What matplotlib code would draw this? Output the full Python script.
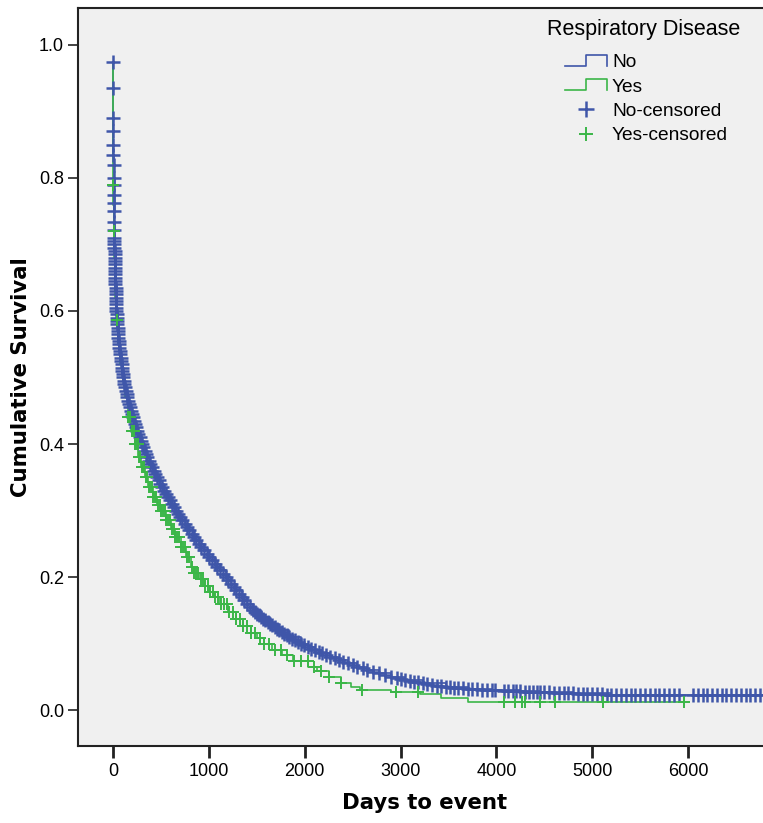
import numpy as np
import matplotlib
matplotlib.use("Agg")
import matplotlib.pyplot as plt
from matplotlib.lines import Line2D
from matplotlib.legend_handler import HandlerBase

plt.rcParams['font.family'] = ['Liberation Sans', 'DejaVu Sans']

# Kaplan-Meier curve, group "No" (days, cumulative survival)
t_no = [0, 1, 2, 3, 4, 5, 6, 7, 8, 9, 10, 11, 12, 13, 14, 15, 16, 18, 20, 22, 24, 26, 28,
        30, 33, 36, 40, 45, 50, 56, 63, 71, 80, 90, 97, 104, 118, 133, 150, 168, 188, 209,
        231, 254, 278, 302, 331, 360, 391, 424, 458, 495, 533, 572, 613, 656, 701, 747,
        795, 845, 896, 950, 1005, 1062, 1119, 1177, 1232, 1287, 1343, 1400, 1458, 1545,
        1637, 1733, 1840, 1958, 2030, 2105, 2185, 2268, 2354, 2450, 2550, 2655, 2770,
        2896, 3050, 3230, 3469, 3700, 3950, 4250, 4458, 4800, 5200, 6780]
s_no = [0.975, 0.935, 0.89, 0.87, 0.85, 0.835, 0.82, 0.80, 0.79, 0.775, 0.763, 0.751,
        0.734, 0.722, 0.71, 0.70, 0.69, 0.68, 0.67, 0.66, 0.65, 0.64, 0.63, 0.62, 0.61,
        0.60, 0.59, 0.58, 0.57, 0.56, 0.55, 0.54, 0.53, 0.52, 0.51, 0.50, 0.49, 0.48,
        0.47, 0.46, 0.45, 0.44, 0.43, 0.42, 0.41, 0.40, 0.39, 0.38, 0.37, 0.36, 0.35,
        0.34, 0.33, 0.32, 0.31, 0.30, 0.29, 0.28, 0.27, 0.26, 0.25, 0.24, 0.23, 0.22,
        0.21, 0.20, 0.19, 0.18, 0.17, 0.16, 0.15, 0.14, 0.13, 0.12, 0.11, 0.10, 0.095,
        0.09, 0.085, 0.08, 0.075, 0.07, 0.065, 0.06, 0.055, 0.05, 0.045, 0.04, 0.035,
        0.032, 0.03, 0.028, 0.027, 0.025, 0.023, 0.022]

# group "Yes"
t_yes = [0, 1, 2, 3, 5, 8, 12, 18, 26, 40, 55, 75, 100, 125, 156, 190, 225, 260, 292, 330,
         370, 415, 460, 500, 550, 600, 650, 708, 760, 810, 844, 900, 960, 1010, 1052, 1120,
         1200, 1280, 1360, 1437, 1500, 1573, 1660, 1760, 1880, 2031, 2130, 2250, 2375,
         2480, 2580, 2900, 3200, 3420, 3700, 5960]
s_yes = [0.97, 0.93, 0.85, 0.79, 0.76, 0.72, 0.68, 0.65, 0.62, 0.586, 0.55, 0.52, 0.495,
         0.47, 0.44, 0.42, 0.40, 0.38, 0.365, 0.35, 0.335, 0.32, 0.308, 0.30, 0.285, 0.272,
         0.26, 0.245, 0.23, 0.215, 0.206, 0.197, 0.186, 0.177, 0.17, 0.16, 0.148, 0.137,
         0.126, 0.116, 0.108, 0.10, 0.09, 0.082, 0.073, 0.065, 0.058, 0.05, 0.04, 0.034,
         0.03, 0.027, 0.024, 0.018, 0.012, 0.012]

# censored cases (days)
cens_no = [0, 1, 2, 3, 4, 5, 6, 7, 8, 9, 10, 11, 12, 13, 14, 14.5, 15, 15.5, 16, 17, 18,
           19, 20, 21, 22, 23, 24, 25, 26, 27, 28, 29, 30, 31.5, 33, 34.5, 36, 38, 40, 42.5,
           45, 47.5, 50, 53, 56, 59.5, 63, 67, 71, 75.5, 80, 85, 90, 93.5, 97, 100.5, 104,
           111, 118, 125, 133, 141, 150, 159, 168, 178, 188, 198, 209, 220, 231, 242, 254,
           266, 278, 290, 302, 316, 331, 345, 360, 375, 391, 407, 424, 441, 458, 476, 495,
           514, 533, 552, 572, 592, 613, 634, 656, 678, 701, 724, 747, 771, 795, 820, 845,
           870, 896, 923, 950, 977, 1005, 1033, 1062, 1090, 1119, 1148, 1177, 1204, 1232,
           1260, 1287, 1315, 1343, 1371, 1400, 1429, 1458, 1480, 1502, 1523, 1545, 1568,
           1591, 1614, 1637, 1661, 1685, 1709, 1733, 1760, 1787, 1813, 1840, 1870, 1899,
           1929, 1958, 1994, 2030, 2068, 2105, 2145, 2185, 2227, 2268, 2311, 2354, 2402,
           2450, 2500, 2550, 2603, 2655, 2713, 2770, 2833, 2896, 2960, 3000, 3050, 3100,
           3140, 3180, 3230, 3280, 3330, 3380, 3420, 3469, 3520, 3560, 3600, 3650, 3700,
           3750, 3800, 3850, 3900, 3950, 3990, 4080, 4120, 4170, 4200, 4250, 4300, 4340,
           4380, 4420, 4458, 4500, 4550, 4600, 4650, 4700, 4750, 4800, 4850, 4900, 4950,
           5000, 5050, 5100, 5150, 5200, 5250, 5300, 5350, 5400, 5450, 5500, 5550, 5600,
           5650, 5700, 5750, 5800, 5850, 5900, 6050, 6100, 6150, 6200, 6250, 6300, 6350,
           6400, 6450, 6500, 6550, 6600, 6650, 6700, 6750]
cens_yes = [3, 8, 40, 156, 168, 180, 195, 207, 218, 232, 245, 258, 270, 284, 298, 312, 326,
            340, 356, 372, 388, 404, 420, 436, 452, 470, 488, 505, 522, 540, 558, 576, 594,
            612, 632, 652, 672, 692, 712, 732, 752, 775, 798, 820, 844, 868, 892, 916, 940,
            965, 990, 1015, 1040, 1068, 1095, 1125, 1155, 1185, 1215, 1250, 1285, 1320,
            1360, 1400, 1440, 1480, 1530, 1580, 1630, 1690, 1750, 1820, 1890, 1960, 2030,
            2100, 2170, 2250, 2375, 2600, 2950, 3180, 4080, 4190, 4270, 4300, 4450, 4610,
            5110, 5960]

blue = '#3F56A9'
green = '#3BB648'


def surv_at(times, t, s):
    idx = np.searchsorted(t, times, side='right') - 1
    return np.array(s)[idx]


class StepHandler(HandlerBase):
    def create_artists(self, legend, orig_handle, xdescent, ydescent, width, height,
                       fontsize, trans):
        x0 = -xdescent
        x1 = x0 + width
        xm = x0 + width * 0.5
        lo = -ydescent + height * 0.1
        hi = -ydescent + height * 0.95
        ln = Line2D([x0, xm, xm, x1, x1], [lo, lo, hi, hi, lo],
                    color=orig_handle.get_color(), lw=1.2, transform=trans)
        return [ln]


fig = plt.figure(figsize=(7.63, 8.23), dpi=100)
ax = fig.add_axes([78 / 763, 77 / 823, 685 / 763, 738 / 823])
ax.set_facecolor('#F0F0F0')

l_no, = ax.step(t_no, s_no, where='post', color=blue, lw=1.2)
l_yes, = ax.step(t_yes, s_yes, where='post', color=green, lw=1.2)
# the "No" group is huge, so its censor marks sit on a practically smooth curve
c_no, = ax.plot(cens_no, np.interp(cens_no, t_no, s_no), ls='none', marker='+',
                ms=10.5, mew=1.8, color=blue)
c_yes, = ax.plot(cens_yes, surv_at(cens_yes, t_yes, s_yes), ls='none', marker='+',
                 ms=9, mew=1.4, color=green)

ax.set_xlim(-365, 6781)
ax.set_ylim(-0.0541, 1.0556)
ax.set_xticks([0, 1000, 2000, 3000, 4000, 5000, 6000])
ax.set_yticks([0.0, 0.2, 0.4, 0.6, 0.8, 1.0])
ax.set_yticklabels(['0.0', '0.2', '0.4', '0.6', '0.8', '1.0'])
ax.tick_params(direction='out', color='#222222', labelsize=13)
ax.tick_params(axis='x', length=8.5, width=2, pad=4)
ax.tick_params(axis='y', length=7.5, width=1.2, pad=2.5)
for side in ['left', 'bottom', 'top']:
    ax.spines[side].set_color('#222222')
    ax.spines[side].set_linewidth(1.5)
ax.spines['right'].set_visible(False)

ax.set_xlabel('Days to event', fontsize=15.3, fontweight='bold', family='DejaVu Sans')
ax.set_ylabel('Cumulative Survival', fontsize=15.3, fontweight='bold',
              family='DejaVu Sans')
ax.xaxis.set_label_coords(0.5066, -0.064)
ax.yaxis.set_label_coords(-0.068, 0.5)

fig.text(547 / 763, 1 - 30 / 823, 'Respiratory Disease', fontsize=15.5, ha='left',
         va='center')
leg = ax.legend([l_no, l_yes, c_no, c_yes], ['No', 'Yes', 'No-censored', 'Yes-censored'],
                handler_map={l_no: StepHandler(), l_yes: StepHandler()},
                loc='upper left', bbox_to_anchor=(565 / 763, 1 - 54 / 823),
                bbox_transform=fig.transFigure, frameon=False, fontsize=13.8,
                borderpad=0, borderaxespad=0, handlelength=2.2, handletextpad=0.25,
                labelspacing=0.36, numpoints=1, markerscale=1.1)

fig.savefig('out.png', dpi=100)
